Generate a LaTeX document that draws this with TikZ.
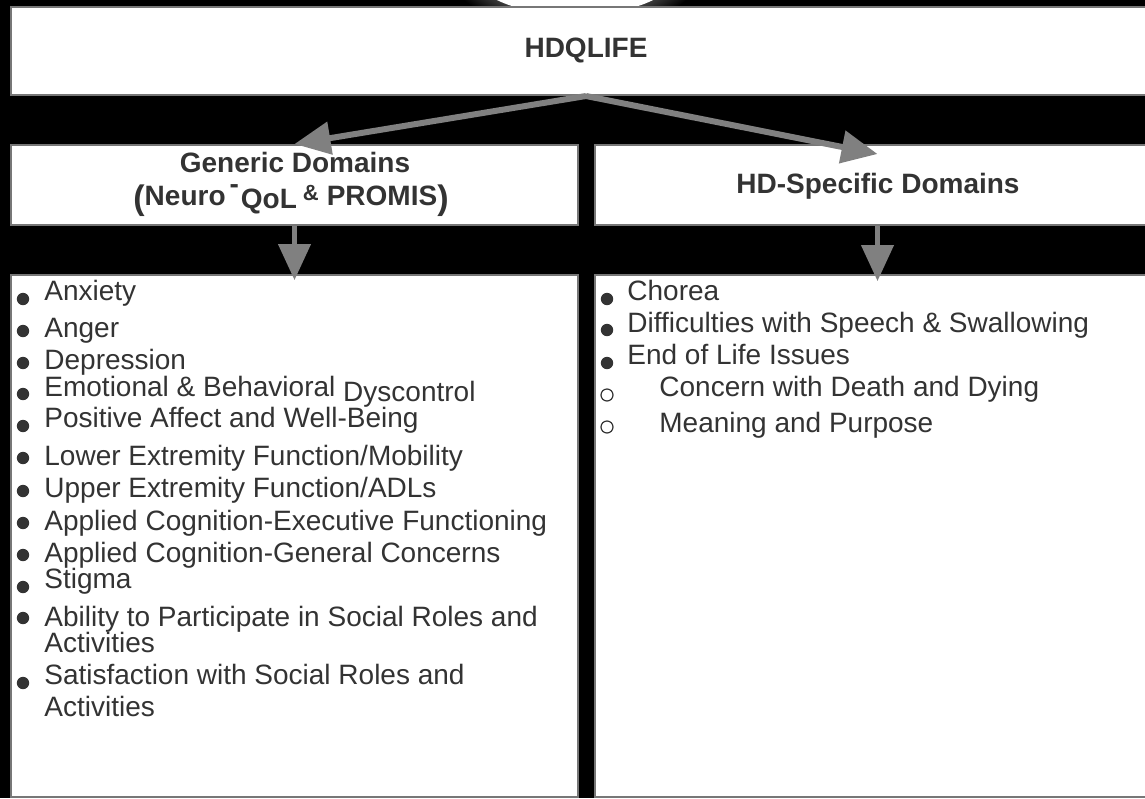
\documentclass[tikz,border=0pt]{standalone}
\usepackage{fontspec}
\setmainfont{Liberation Sans}
\usetikzlibrary{arrows.meta}
\definecolor{txtgray}{HTML}{333333}
\definecolor{boxline}{HTML}{777777}
\definecolor{arrgray}{HTML}{808080}
\tikzset{
  dombox/.style={rectangle, draw=boxline, line width=1pt, fill=white, inner sep=0pt},
  bigarrow/.style={draw=arrgray, line width=3pt, -{Triangle[length=18pt,width=16pt]}},
  downarrow/.style={draw=arrgray, line width=2.2pt, -{Triangle[length=18pt,width=16pt]}},
  head/.style={anchor=base, inner sep=0pt, text=txtgray, font=\fontsize{14}{17}\selectfont\bfseries},
  item/.style={anchor=base west, inner sep=0pt, text=txtgray, font=\fontsize{14}{17}\selectfont},
}
\begin{document}
\begin{tikzpicture}[x=0.5pt,y=-0.5pt]
\useasboundingbox (0,0) rectangle (1145,798);
\fill[black] (0,0) rectangle (1145,798);
% glow above the top box
\shade[inner color=white, outer color=black] (575,-25) ellipse [x radius=125, y radius=55];
\fill[white] (575,-25) ellipse [x radius=100, y radius=40];

% boxes
\node[dombox, minimum width=575pt, minimum height=44pt] (top) at (586,51) {};
\node[dombox, minimum width=283.5pt, minimum height=40pt] (gen) at (294.5,185) {};
\node[dombox, minimum width=282.5pt, minimum height=40pt] (hd) at (877.5,185) {};
\node[dombox, minimum width=283.5pt, minimum height=261pt] (genlist) at (294.5,536) {};
\node[dombox, minimum width=282.5pt, minimum height=261pt] (hdlist) at (877.5,536) {};

% titles
\node[head] (toptitle) at (586,57) {HDQLIFE};
\node[head] (gentitle) at (295,172) {Generic Domains};
\node[head] (gensub) at (291,205) {\raisebox{-2pt}{\fontsize{17}{17}\selectfont(}Neuro\hspace{2pt}\raisebox{6pt}{-}\hspace{1pt}\raisebox{-1.5pt}{QoL}\hspace{3pt}\raisebox{2.5pt}{\fontsize{11}{11}\selectfont\&}\hspace{4pt}PROMIS\raisebox{-2pt}{\fontsize{17}{17}\selectfont)}};
\node[head] (hdtitle) at (878,193) {HD-Specific Domains};

% arrows
\draw[bigarrow] (top.south) -- (gen.north);
\draw[bigarrow] (top.south) -- ([yshift=-5pt]hd.north);
\draw[downarrow] (gen.south) -- ([yshift=-3pt]genlist.north);
\draw[downarrow] (hd.south) -- ([yshift=-3.5pt]hdlist.north);

% generic list
\foreach \n/\y/\texto in {g1/300/{Anxiety},g2/337/{Anger},g3/369/{Depression},
  g4/396/{Emotional \& Behavioral \raisebox{-2.5pt}{Dyscontrol}},g5/427/{Positive Affect and Well-Being},
  g6/465/{Lower Extremity Function/Mobility},g7/497/{Upper Extremity Function/ADLs},
  g8/530/{Applied Cognition-Executive Functioning},g9/562/{Applied Cognition-General Concerns},
  g10/588/{Stigma},g11/626/{Ability to Participate in Social Roles and},g12/652/{Activities},
  g13/684/{Satisfaction with Social Roles and},g14/716/{Activities}}
\node[item] (\n) at (44,\y) {\texto};
\foreach \y in {299,331,363,394,426,458,491,523,555,587,618,683}
\fill[txtgray] (23,\y) circle[radius=3.1pt];

% HD-specific list
\foreach \n/\x/\y/\texto in {h1/627/300/{Chorea},h2/627/332/{Difficulties with Speech \& Swallowing},
  h3/627/364/{End of Life Issues},h4/659/396/{Concern with Death and Dying},h5/659/432/{Meaning and Purpose}}
\node[item] (\n) at (\x,\y) {\texto};
\foreach \y in {299,330,363}
\fill[txtgray] (607,\y) circle[radius=3.1pt];
\foreach \y in {395,427}
\draw[txtgray, line width=0.6pt] (607,\y) circle[radius=3pt];
\end{tikzpicture}
\end{document}
